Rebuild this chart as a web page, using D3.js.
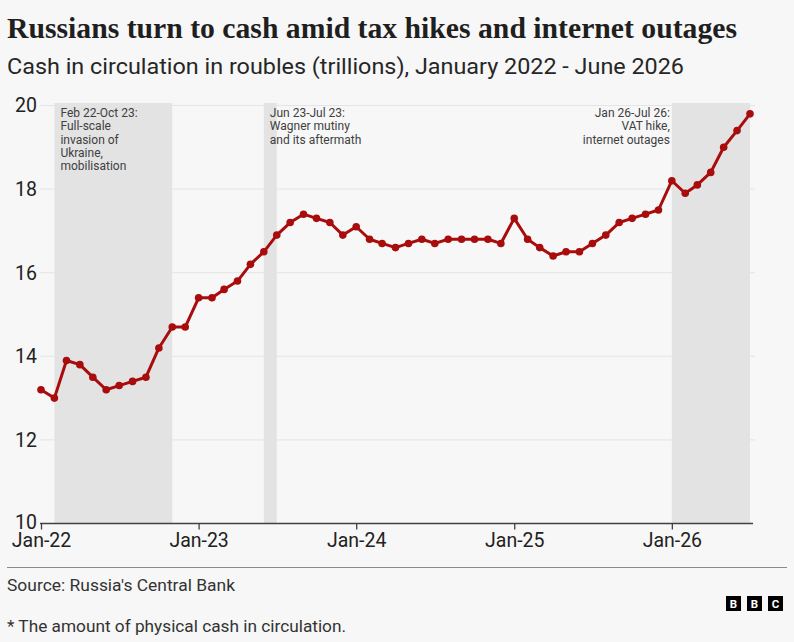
<!DOCTYPE html>
<html>
<head>
<meta charset="utf-8">
<script src="https://cdn.jsdelivr.net/npm/d3@7"></script>
<style>
  html, body { margin: 0; padding: 0; background: #f7f7f7; }
  svg { display: block; }
</style>
</head>
<body>
<div id="chart"></div>
<script>
// monthly readings, trillions of roubles
const months = [
  "2022-01", "2022-02", "2022-03", "2022-04", "2022-05", "2022-06", "2022-07", "2022-08", "2022-09", "2022-10", "2022-11", "2022-12",
  "2023-01", "2023-02", "2023-03", "2023-04", "2023-05", "2023-06", "2023-07", "2023-08", "2023-09", "2023-10", "2023-11", "2023-12",
  "2024-01", "2024-02", "2024-03", "2024-04", "2024-05", "2024-06", "2024-07", "2024-08", "2024-09", "2024-10", "2024-11", "2024-12",
  "2025-01", "2025-02", "2025-03", "2025-04", "2025-05", "2025-06", "2025-07", "2025-08", "2025-09", "2025-10", "2025-11", "2025-12",
  "2026-01", "2026-02", "2026-03", "2026-04", "2026-05", "2026-06", "2026-07"
];
const cash = [
  13.2, 13.0, 13.9, 13.8, 13.5, 13.2, 13.3, 13.4, 13.5, 14.2, 14.7, 14.7,
  15.4, 15.4, 15.6, 15.8, 16.2, 16.5, 16.9, 17.2, 17.4, 17.3, 17.2, 16.9,
  17.1, 16.8, 16.7, 16.6, 16.7, 16.8, 16.7, 16.8, 16.8, 16.8, 16.8, 16.7,
  17.3, 16.8, 16.6, 16.4, 16.5, 16.5, 16.7, 16.9, 17.2, 17.3, 17.4, 17.5,
  18.2, 17.9, 18.1, 18.4, 19.0, 19.4, 19.8
];
const yTicks = [10, 12, 14, 16, 18, 20];
const xTicks = ["2022-01", "2023-01", "2024-01", "2025-01", "2026-01"];

// shaded periods
const periodStarts = ["2022-02", "2023-06", "2026-01"];
const periodEnds = ["2022-11", "2023-07", "2026-07"];
const periodLabels = [
  ["Feb 22-Oct 23:", "Full-scale", "invasion of", "Ukraine,", "mobilisation"],
  ["Jun 23-Jul 23:", "Wagner mutiny", "and its aftermath"],
  ["Jan 26-Jul 26:", "VAT hike,", "internet outages"]
];
const labelSide = ["left", "left", "right"];

const width = 794, height = 642;
const parse = d3.timeParse("%Y-%m");
const fmt = d3.timeFormat("%b-%y");
const sans = "Roboto, 'Noto Sans', sans-serif";

const data = months.map((m, i) => ({ date: parse(m), value: cash[i] }));

const svg = d3.select("#chart").append("svg")
  .attr("width", width)
  .attr("height", height)
  .style("font-family", sans);

svg.append("rect").attr("width", width).attr("height", height).attr("fill", "#f7f7f7");

const x = d3.scaleTime()
  .domain(d3.extent(data, d => d.date))
  .range([41, 750]);
const y = d3.scaleLinear()
  .domain([10, 20])
  .range([523.5, 105.5]);

// title block
svg.append("text")
  .attr("x", 7).attr("y", 37.5)
  .attr("textLength", 730)
  .attr("lengthAdjust", "spacingAndGlyphs")
  .style("font-family", "'Liberation Serif', 'DejaVu Serif', serif")
  .style("font-weight", "bold")
  .style("font-size", "28.5px")
  .attr("fill", "#1f1f1f")
  .text("Russians turn to cash amid tax hikes and internet outages");

svg.append("text")
  .attr("x", 7).attr("y", 74)
  .attr("textLength", 677)
  .attr("lengthAdjust", "spacingAndGlyphs")
  .style("font-size", "22.5px")
  .attr("fill", "#262626")
  .text("Cash in circulation in roubles (trillions), January 2022 - June 2026");

// shaded periods
const periods = periodStarts.map((s, i) => ({
  start: parse(s), end: parse(periodEnds[i]), lines: periodLabels[i], side: labelSide[i]
}));

svg.append("g").selectAll("rect")
  .data(periods)
  .join("rect")
  .attr("x", d => x(d.start))
  .attr("width", d => x(d.end) - x(d.start))
  .attr("y", y(20) - 2.5)
  .attr("height", y(10) - y(20) + 2.5)
  .attr("fill", "#e3e3e3");

// grid
svg.append("g").selectAll("line")
  .data(yTicks.filter(d => d !== 10))
  .join("line")
  .attr("x1", 40).attr("x2", 755)
  .attr("y1", d => y(d)).attr("y2", d => y(d))
  .attr("stroke", "#e4e4e4")
  .attr("stroke-width", 1);

// y labels ("10" sits a touch higher so it clears the date below)
svg.append("g").selectAll("text")
  .data(yTicks)
  .join("text")
  .attr("x", 37)
  .attr("y", d => d === 10 ? y(d) - 1.5 : y(d))
  .attr("dy", "0.35em")
  .attr("text-anchor", "end")
  .style("font-size", "19.5px")
  .attr("fill", "#222")
  .text(d => d);

// x axis
const xAxis = d3.axisBottom(x)
  .tickValues(xTicks.map(parse))
  .tickFormat(fmt)
  .tickSize(6)
  .tickSizeOuter(0)
  .tickPadding(4);

const gx = svg.append("g")
  .attr("transform", `translate(0,${y(10)})`)
  .call(xAxis);
gx.select(".domain").remove();
gx.append("line")
  .attr("x1", 40).attr("x2", 753)
  .attr("stroke", "#404040").attr("stroke-width", 1.3);
gx.selectAll(".tick line").attr("stroke", "#404040").attr("stroke-width", 1.3);
gx.selectAll(".tick text")
  .style("font-size", "19.5px")
  .style("font-family", sans)
  .attr("fill", "#222");

// annotations
periods.forEach(p => {
  const left = p.side === "left";
  const tx = left ? x(p.start) + 6 : x(p.start) - 2;
  const t = svg.append("text")
    .attr("x", tx).attr("y", 117)
    .attr("text-anchor", left ? "start" : "end")
    .style("font-size", "12px")
    .attr("fill", "#404040");
  t.selectAll("tspan")
    .data(p.lines)
    .join("tspan")
    .attr("x", tx)
    .attr("dy", (d, i) => i === 0 ? 0 : 13.3)
    .text(d => d);
});

// line + points
const line = d3.line().x(d => x(d.date)).y(d => y(d.value));
svg.append("path")
  .datum(data)
  .attr("d", line)
  .attr("fill", "none")
  .attr("stroke", "#a80c0c")
  .attr("stroke-width", 3)
  .attr("stroke-linejoin", "round");

svg.append("g").selectAll("circle")
  .data(data)
  .join("circle")
  .attr("cx", d => x(d.date))
  .attr("cy", d => y(d.value))
  .attr("r", 3.8)
  .attr("fill", "#a80c0c");

// footer
svg.append("line")
  .attr("x1", 7).attr("x2", 787)
  .attr("y1", 567.5).attr("y2", 567.5)
  .attr("stroke", "#8a8a8a").attr("stroke-width", 1);

svg.append("text")
  .attr("x", 7).attr("y", 591)
  .attr("textLength", 228)
  .attr("lengthAdjust", "spacingAndGlyphs")
  .style("font-size", "16.5px")
  .attr("fill", "#333")
  .text("Source: Russia's Central Bank");

svg.append("text")
  .attr("x", 7).attr("y", 632)
  .attr("textLength", 339)
  .attr("lengthAdjust", "spacingAndGlyphs")
  .style("font-size", "17.3px")
  .attr("fill", "#333")
  .text("* The amount of physical cash in circulation.");

// BBC blocks
const logo = svg.append("g").attr("transform", "translate(726,596)");
["B", "B", "C"].forEach((ch, i) => {
  logo.append("rect")
    .attr("x", i * 21).attr("y", 0)
    .attr("width", 15).attr("height", 15)
    .attr("fill", "#000");
  logo.append("text")
    .attr("x", i * 21 + 7.5).attr("y", 11.8)
    .attr("text-anchor", "middle")
    .style("font-size", "11.5px")
    .style("font-weight", "bold")
    .attr("fill", "#fff")
    .text(ch);
});
</script>
</body>
</html>
